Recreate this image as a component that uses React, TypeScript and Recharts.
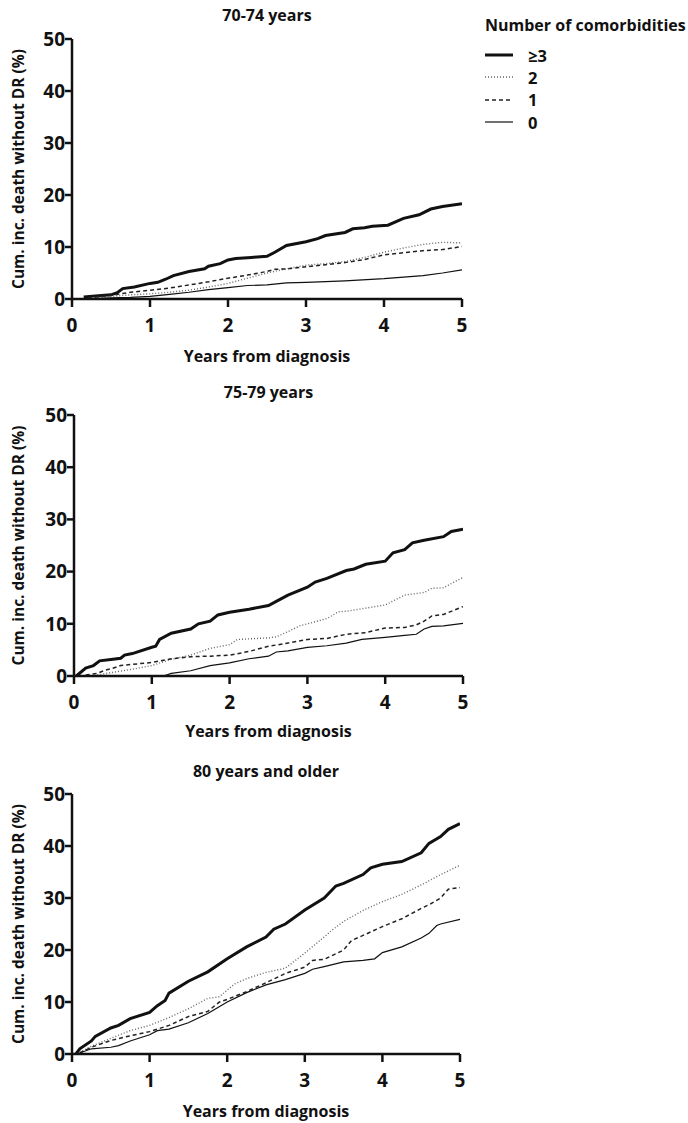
import { LineChart, Line, XAxis, YAxis } from "recharts";

const FONT = "'Open Sans', Lato, sans-serif";

const X_TICKS = [0, 1, 2, 3, 4, 5];
const Y_TICKS = [0, 10, 20, 30, 40, 50];

const GROUPS = ["≥3", "2", "1", "0"];

// cumulative incidence, [years, %]
const age70_ge3: [number, number][] = [
  [0.15, 0.4], [0.3, 0.6], [0.5, 0.8], [0.58, 1.2], [0.65, 2.0], [0.8, 2.3], [1.0, 3.0], [1.1, 3.2],
  [1.2, 3.8], [1.3, 4.5], [1.5, 5.3], [1.7, 5.8], [1.75, 6.3], [1.9, 6.8], [2.0, 7.5], [2.1, 7.8],
  [2.3, 8.0], [2.5, 8.2], [2.6, 9.0], [2.75, 10.3], [3.0, 11.0], [3.15, 11.6], [3.25, 12.2], [3.5, 12.8],
  [3.6, 13.5], [3.75, 13.7], [3.85, 14.0], [4.05, 14.2], [4.25, 15.5], [4.45, 16.2], [4.6, 17.3],
  [4.75, 17.8], [5.0, 18.3],
];
const age70_2: [number, number][] = [
  [0.3, 0.2], [0.5, 0.5], [0.75, 0.8], [1.0, 1.0], [1.25, 1.3], [1.5, 1.7], [1.75, 2.3], [2.0, 3.0],
  [2.25, 4.0], [2.5, 5.0], [2.75, 5.8], [3.0, 6.5], [3.25, 6.8], [3.5, 7.2], [3.75, 8.0], [4.0, 9.0],
  [4.25, 9.8], [4.5, 10.5], [4.75, 10.9], [5.0, 10.8],
];
const age70_1: [number, number][] = [
  [0.2, 0.2], [0.5, 0.7], [0.75, 1.3], [1.0, 1.7], [1.25, 2.1], [1.5, 2.7], [1.75, 3.3], [2.0, 4.0],
  [2.25, 4.6], [2.5, 5.3], [2.6, 5.7], [2.75, 5.8], [3.0, 6.2], [3.25, 6.6], [3.5, 7.0], [3.75, 7.6],
  [4.0, 8.5], [4.25, 8.9], [4.5, 9.3], [4.75, 9.5], [5.0, 10.1],
];
const age70_0: [number, number][] = [
  [0.3, 0.1], [0.5, 0.2], [0.75, 0.3], [1.0, 0.5], [1.25, 0.9], [1.5, 1.3], [1.75, 1.8], [2.0, 2.2],
  [2.25, 2.6], [2.5, 2.7], [2.75, 3.1], [3.0, 3.2], [3.5, 3.5], [4.0, 3.9], [4.25, 4.2], [4.5, 4.5],
  [4.75, 5.0], [5.0, 5.6],
];

const age75_ge3: [number, number][] = [
  [0.03, 0], [0.15, 1.5], [0.25, 2.0], [0.33, 2.9], [0.5, 3.2], [0.6, 3.4], [0.65, 4.0], [0.75, 4.3],
  [1.0, 5.5], [1.05, 5.7], [1.1, 7.0], [1.25, 8.2], [1.5, 9.0], [1.6, 10.0], [1.75, 10.5], [1.85, 11.7],
  [2.0, 12.2], [2.25, 12.8], [2.5, 13.5], [2.6, 14.3], [2.75, 15.5], [3.0, 17.0], [3.1, 18.0],
  [3.25, 18.7], [3.5, 20.2], [3.6, 20.5], [3.75, 21.4], [4.0, 22.0], [4.1, 23.6], [4.25, 24.2],
  [4.35, 25.5], [4.5, 26.0], [4.75, 26.7], [4.85, 27.7], [5.0, 28.1],
];
const age75_2: [number, number][] = [
  [0.3, 0.2], [0.5, 0.7], [0.75, 1.3], [1.0, 2.0], [1.25, 3.2], [1.5, 4.0], [1.75, 5.3], [2.0, 6.0],
  [2.1, 7.0], [2.5, 7.3], [2.6, 7.5], [2.75, 8.5], [2.9, 9.6], [3.0, 10.0], [3.25, 11.0], [3.4, 12.3],
  [3.5, 12.4], [3.75, 13.0], [4.0, 13.6], [4.25, 15.5], [4.5, 16.0], [4.6, 16.8], [4.75, 16.9],
  [5.0, 18.9],
];
const age75_1: [number, number][] = [
  [0.15, 0.2], [0.3, 0.5], [0.4, 1.1], [0.5, 1.5], [0.6, 2.0], [1.0, 2.6], [1.25, 3.3], [1.5, 3.7],
  [1.75, 3.8], [2.0, 4.0], [2.25, 4.7], [2.5, 5.7], [2.75, 6.3], [3.0, 7.0], [3.25, 7.2], [3.5, 8.0],
  [3.75, 8.3], [4.0, 9.2], [4.25, 9.3], [4.4, 9.8], [4.5, 10.5], [4.6, 11.5], [4.75, 11.8], [5.0, 13.3],
];
const age75_0: [number, number][] = [
  [0, 0], [1.15, 0], [1.25, 0.5], [1.5, 1.0], [1.75, 2.0], [2.0, 2.5], [2.25, 3.3], [2.5, 3.8],
  [2.6, 4.6], [2.75, 4.8], [3.0, 5.5], [3.25, 5.8], [3.5, 6.3], [3.7, 7.0], [4.0, 7.4], [4.25, 7.8],
  [4.4, 8.0], [4.5, 9.0], [4.6, 9.5], [4.75, 9.6], [5.0, 10.1],
];

const age80_ge3: [number, number][] = [
  [0.05, 0], [0.1, 1.0], [0.25, 2.5], [0.3, 3.4], [0.5, 5.0], [0.6, 5.5], [0.75, 6.8], [1.0, 8.0],
  [1.1, 9.3], [1.2, 10.3], [1.25, 11.7], [1.5, 14.0], [1.75, 15.8], [2.0, 18.3], [2.25, 20.6],
  [2.5, 22.5], [2.6, 24.0], [2.75, 25.0], [3.0, 27.7], [3.25, 30.0], [3.4, 32.3], [3.5, 32.8],
  [3.75, 34.5], [3.85, 35.8], [4.0, 36.5], [4.25, 37.0], [4.5, 38.7], [4.6, 40.5], [4.75, 41.8],
  [4.85, 43.2], [5.0, 44.3],
];
const age80_2: [number, number][] = [
  [0.1, 0.3], [0.25, 1.5], [0.5, 3.0], [0.75, 4.5], [1.0, 5.5], [1.25, 7.0], [1.5, 8.7], [1.75, 10.7],
  [1.9, 11.0], [2.0, 12.3], [2.1, 13.5], [2.25, 14.5], [2.5, 15.7], [2.75, 16.5], [3.0, 19.4],
  [3.25, 22.5], [3.35, 23.8], [3.5, 25.5], [3.75, 27.6], [4.0, 29.3], [4.25, 30.7], [4.5, 32.5],
  [4.75, 34.5], [5.0, 36.3],
];
const age80_1: [number, number][] = [
  [0.1, 0.2], [0.25, 1.3], [0.5, 2.6], [0.75, 3.5], [1.0, 4.3], [1.25, 5.5], [1.5, 7.2], [1.75, 8.2],
  [1.9, 10.0], [2.0, 10.5], [2.25, 12.0], [2.5, 13.7], [2.75, 15.5], [3.0, 16.7], [3.1, 18.0],
  [3.25, 18.2], [3.5, 20.0], [3.6, 21.8], [3.75, 22.8], [4.0, 24.5], [4.25, 26.0], [4.5, 28.0],
  [4.6, 28.7], [4.75, 30.0], [4.85, 31.7], [5.0, 32.0],
];
const age80_0: [number, number][] = [
  [0.1, 0.2], [0.25, 1.0], [0.5, 1.3], [0.6, 1.6], [0.75, 2.5], [1.0, 3.7], [1.1, 4.5], [1.25, 4.8],
  [1.5, 6.0], [1.75, 7.8], [2.0, 10.0], [2.25, 11.8], [2.5, 13.3], [2.75, 14.3], [3.0, 15.5],
  [3.1, 16.3], [3.25, 16.8], [3.5, 17.7], [3.75, 18.0], [3.9, 18.3], [4.0, 19.5], [4.25, 20.6],
  [4.5, 22.3], [4.6, 23.2], [4.7, 24.7], [4.75, 25.0], [5.0, 25.9],
];

// line style per comorbidity group, same order as GROUPS
const STYLES = [
  { stroke: "#111", strokeWidth: 3, dash: undefined },
  { stroke: "#666", strokeWidth: 1.4, dash: "1 2" },
  { stroke: "#222", strokeWidth: 1.5, dash: "4 3" },
  { stroke: "#111", strokeWidth: 1.2, dash: undefined },
];

const toRows = (pts: [number, number][]) => pts.map(([t, v]) => ({ t, v }));

const tickStyle = { fontFamily: FONT, fontSize: 19, fontWeight: 700, fill: "#111" };
const labelStyle = { fontFamily: FONT, fontSize: 16, fontWeight: 700, fill: "#111" };

interface PanelProps {
  title: string;
  series: [number, number][][];
  top: number;
  height: number;
  margin: { top: number; right: number; left: number; bottom: number };
  yWidth: number;
  xHeight: number;
  titleY: number;
}

const Panel = ({ title, series, top, height, margin, yWidth, xHeight, titleY }: PanelProps) => {
  const width = 480;
  const plotCenter = yWidth + (width - yWidth - margin.right) / 2;
  return (
    <div style={{ position: "absolute", left: 0, top, width, height }}>
      <div
        style={{
          position: "absolute",
          left: plotCenter - 150,
          width: 300,
          top: titleY - 11,
          lineHeight: "22px",
          textAlign: "center",
          fontFamily: FONT,
          fontWeight: 700,
          fontSize: 16,
          color: "#111",
        }}
      >
        {title}
      </div>
      <LineChart width={width} height={height} margin={margin}>
        <XAxis
          type="number"
          dataKey="t"
          domain={[0, 5]}
          ticks={X_TICKS}
          allowDataOverflow
          height={xHeight}
          tickSize={8}
          tickMargin={12}
          axisLine={{ stroke: "#111", strokeWidth: 2.5 }}
          tickLine={{ stroke: "#111", strokeWidth: 2.5 }}
          tick={tickStyle}
          label={{ value: "Years from diagnosis", position: "insideBottom", offset: 0, style: labelStyle }}
        />
        <YAxis
          type="number"
          domain={[0, 50]}
          ticks={Y_TICKS}
          width={yWidth}
          tickSize={7}
          tickMargin={0}
          axisLine={{ stroke: "#111", strokeWidth: 2.5 }}
          tickLine={{ stroke: "#111", strokeWidth: 2.5 }}
          tick={tickStyle}
          label={{
            value: "Cum. inc. death without DR (%)",
            angle: -90,
            position: "insideLeft",
            offset: 18,
            style: { ...labelStyle, fontSize: 15.5, textAnchor: "middle" },
          }}
        />
        {series.map((pts, i) => (
          <Line
            key={GROUPS[i]}
            data={toRows(pts)}
            dataKey="v"
            type="linear"
            stroke={STYLES[i].stroke}
            strokeWidth={STYLES[i].strokeWidth}
            strokeDasharray={STYLES[i].dash}
            dot={false}
            activeDot={false}
            isAnimationActive={false}
          />
        ))}
      </LineChart>
    </div>
  );
};

const GroupLegend = () => (
  <div style={{ position: "absolute", left: 485, top: 14, fontFamily: FONT, color: "#111" }}>
    <div style={{ fontSize: 16, fontWeight: 700, lineHeight: "22px", whiteSpace: "nowrap" }}>
      Number of comorbidities
    </div>
    <div style={{ marginTop: 8 }}>
      {GROUPS.map((g, i) => (
        <div key={g} style={{ display: "flex", alignItems: "center", height: 22.3 }}>
          <svg width={28} height={10} style={{ marginRight: 15 }}>
            <line
              x1={0}
              x2={28}
              y1={5}
              y2={5}
              stroke={STYLES[i].stroke}
              strokeWidth={STYLES[i].strokeWidth}
              strokeDasharray={STYLES[i].dash}
            />
          </svg>
          <span style={{ fontSize: 16.5, fontWeight: 700 }}>{g}</span>
        </div>
      ))}
    </div>
  </div>
);

const App = () => (
  <div style={{ position: "absolute", left: 0, top: 0, width: 688, height: 1123, background: "#fff" }}>
    <Panel
      title="70-74 years"
      series={[age70_ge3, age70_2, age70_1, age70_0]}
      top={0}
      height={370}
      margin={{ top: 39, right: 18, left: 0, bottom: 8 }}
      yWidth={72}
      xHeight={63}
      titleY={15}
    />
    <Panel
      title="75-79 years"
      series={[age75_ge3, age75_2, age75_1, age75_0]}
      top={370}
      height={380}
      margin={{ top: 45, right: 17, left: 0, bottom: 13 }}
      yWidth={74}
      xHeight={61}
      titleY={22}
    />
    <Panel
      title="80 years and older"
      series={[age80_ge3, age80_2, age80_1, age80_0]}
      top={750}
      height={373}
      margin={{ top: 44, right: 20, left: 0, bottom: 6 }}
      yWidth={72}
      xHeight={63}
      titleY={21}
    />
    <GroupLegend />
  </div>
);

export default App;
